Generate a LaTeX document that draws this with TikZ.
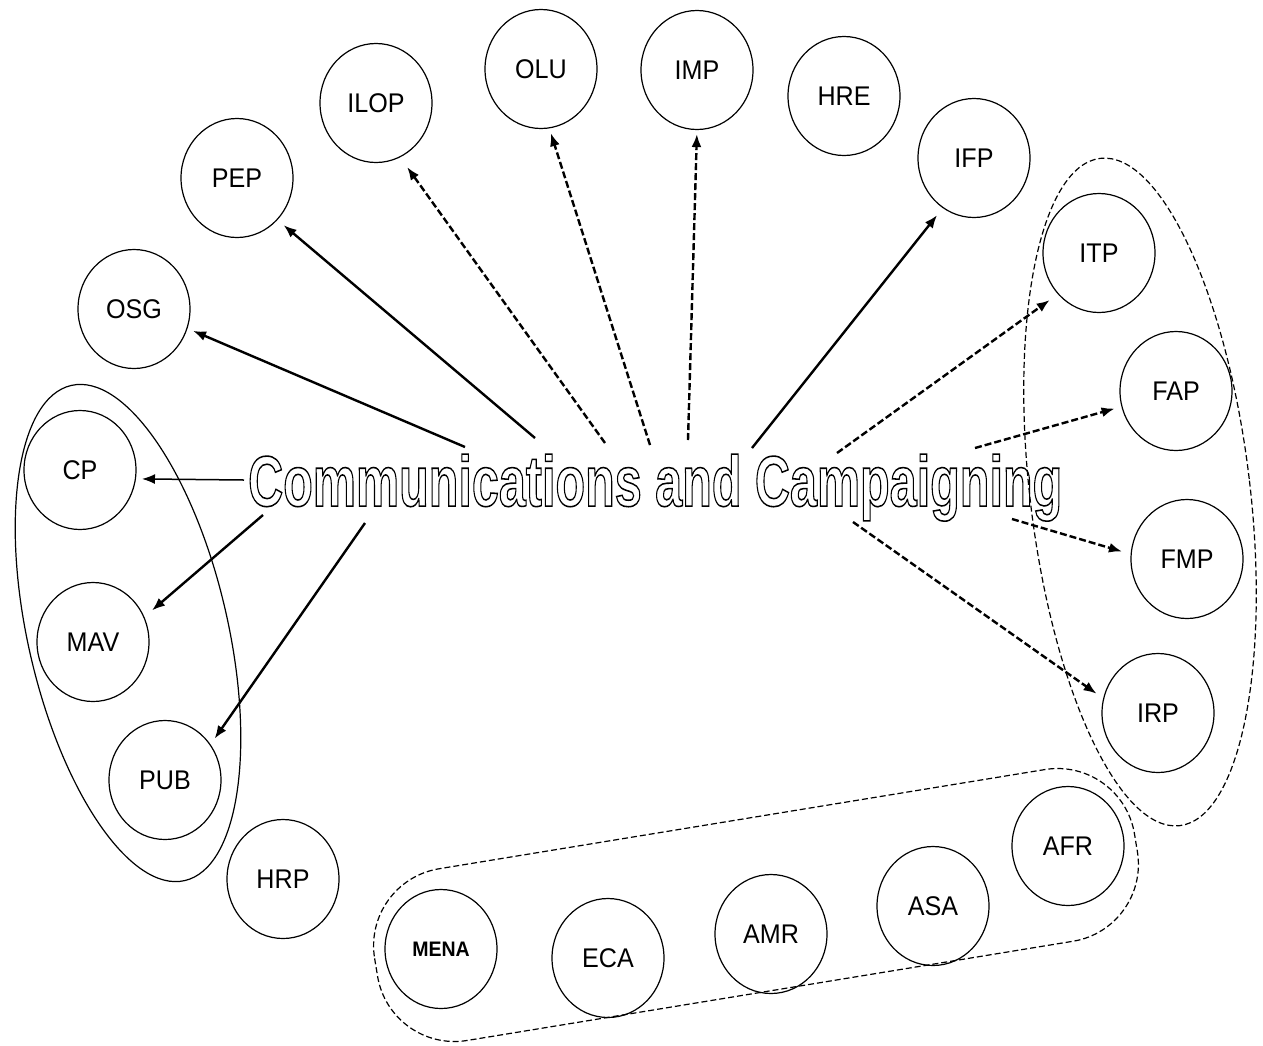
\documentclass[tikz,border=0pt]{standalone}
\usepackage{fontspec}
\setmainfont{Liberation Sans}
\newfontfamily\labelfont{Liberation Sans}[FakeStretch=0.93]
\usetikzlibrary{shapes.geometric,arrows.meta}
% stroke-only (hollow) text via the PDF text rendering mode
\newcommand{\hollowtext}[1]{\special{pdf:literal 1 Tr 1.3 w}#1\special{pdf:literal 0 Tr}}

\begin{document}
\begin{tikzpicture}[x=1pt,y=-1pt,
  unit/.style={ellipse, draw, line width=1.2pt, minimum width=112pt,
    minimum height=119pt, inner sep=0pt,
    font=\labelfont\fontsize{27}{30}\selectfont},
  link/.style={line width=2.4pt, -{Latex[length=13pt,width=10pt]}},
  dlink/.style={link, dash pattern=on 7pt off 3pt},
  group/.style={line width=1.2pt},
  dgroup/.style={group, dash pattern=on 6pt off 3pt}]
\useasboundingbox (0,0) rectangle (1263,1045);

% hollow title
\node[anchor=north west, inner sep=0pt] (title) at (248,454)
  {\resizebox*{814pt}{67pt}{\fontsize{60}{70}\selectfont\bfseries
   \hollowtext{Communications and Campaigning}}};

% units
\node[unit] (osg) at (134,309) {OSG};
\node[unit] (pep) at (237,178) {PEP};
\node[unit] (ilop) at (376,103) {ILOP};
\node[unit] (olu) at (541,69) {OLU};
\node[unit] (imp) at (697,70) {IMP};
\node[unit] (hre) at (844,96) {HRE};
\node[unit] (ifp) at (974,158) {IFP};
\node[unit] (itp) at (1099,253) {ITP};
\node[unit] (fap) at (1176,391) {FAP};
\node[unit] (fmp) at (1187,559) {FMP};
\node[unit] (irp) at (1158,713) {IRP};
\node[unit] (afr) at (1068,846) {AFR};
\node[unit] (asa) at (933,906) {ASA};
\node[unit] (amr) at (771,934) {AMR};
\node[unit] (eca) at (608,958) {ECA};
\node[unit, font=\labelfont\bfseries\fontsize{21}{24}\selectfont] (mena) at (441,949) {MENA};
\node[unit] (hrp) at (283,879) {HRP};
\node[unit] (pub) at (165,780) {PUB};
\node[unit] (mav) at (93,642) {MAV};
\node[unit] (cp) at (80,470) {CP};

% groupings
\draw[group, rotate around={12.9:(128,633)}] (128,633) ellipse [x radius=100pt, y radius=254pt];
\draw[dgroup, rotate around={6.8:(1140,492)}] (1140,492) ellipse [x radius=110pt, y radius=336pt];
\draw[dgroup, rounded corners=78pt, rotate around={9.3:(756,905)}]
  (371,818) rectangle (1141,992);

% arrow tails
\coordinate (sOSG) at (465,447);
\coordinate (sPEP) at (535,438);
\coordinate (sILOP) at (605,443);
\coordinate (sOLU) at (650,445);
\coordinate (sIMP) at (688,440);
\coordinate (sIFP) at (752,448);
\coordinate (sITP) at (837,453);
\coordinate (sFAP) at (975,448);
\coordinate (sFMP) at (1012,519);
\coordinate (sIRP) at (853,522);
\coordinate (sCP) at (244,480);
\coordinate (sMAV) at (263,515);
\coordinate (sPUB) at (365,523);

% arrows
\draw[link, shorten >=6pt] (sOSG) -- (osg.-20.4);
\draw[link, shorten >=8pt] (sPEP) -- (pep.-46.8);
\draw[dlink, shorten >=12pt] (sILOP) -- (ilop.-66);
\draw[dlink, shorten >=5pt] (sOLU) -- (olu.-82.8);
\draw[dlink, shorten >=4pt] (sIMP) -- (imp.-90);
\draw[link, shorten >=9pt] (sIFP) -- (ifp.-122.3);
\draw[dlink, shorten >=10pt] (sITP) -- (itp.-135.6);
\draw[dlink, shorten >=7pt] (sFAP) -- (fap.-164.7);
\draw[dlink, shorten >=9pt] (sFMP) -- (fmp.175.6);
\draw[dlink, shorten >=8pt] (sIRP) -- (irp.165.7);
\draw[link, line width=1.5pt, shorten >=6pt] (sCP) -- (cp.-9);
\draw[link, shorten >=10pt] (sMAV) -- (mav.26.6);
\draw[link, shorten >=7pt] (sPUB) -- (pub.38.7);
\end{tikzpicture}
\end{document}
